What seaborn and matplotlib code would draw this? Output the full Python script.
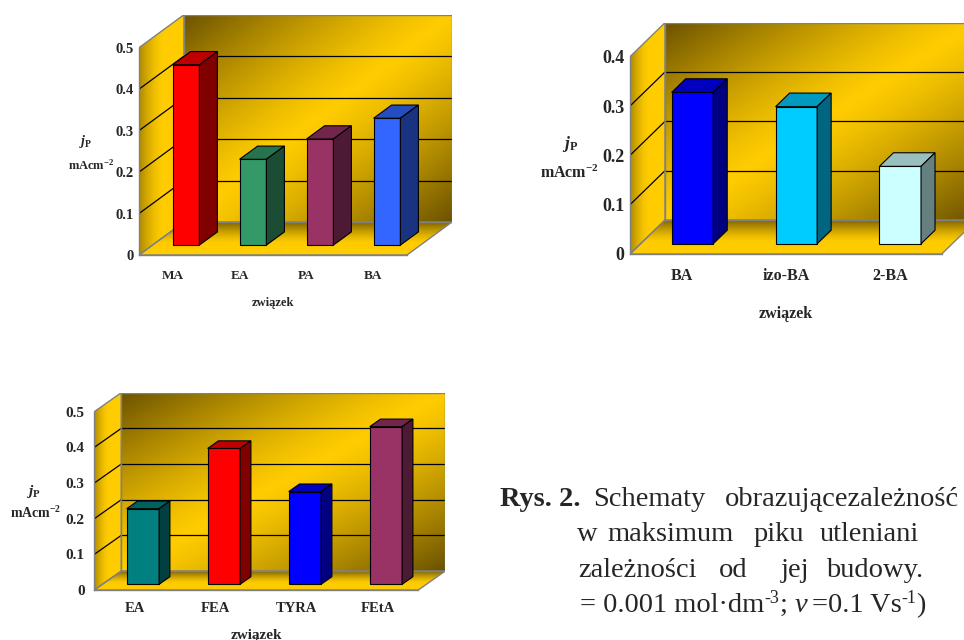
import numpy as np
import pandas as pd
import matplotlib
matplotlib.use("Agg")
import matplotlib.pyplot as plt
import matplotlib.transforms as mtransforms
from matplotlib.patches import Polygon, Rectangle
import seaborn as sns

# ---- data -------------------------------------------------------------
alkyl_names = ["MA", "EA", "PA", "BA"]
alkyl_jp = [0.435, 0.207, 0.256, 0.306]
alkyl_colors = ["#FF0000", "#339966", "#993366", "#3366FF"]

butyl_names = ["BA", "izo-BA", "2-BA"]
butyl_jp = [0.307, 0.278, 0.157]
butyl_colors = ["#0000FF", "#00CCFF", "#CCFFFF"]

aryl_names = ["EA", "FEA", "TYRA", "FEtA"]
aryl_jp = [0.212, 0.381, 0.260, 0.442]
aryl_colors = ["#008080", "#FF0000", "#0000FF", "#993366"]

ticks_05 = [0, 0.1, 0.2, 0.3, 0.4, 0.5]
labels_05 = ["0", "0.1", "0.2", "0.3", "0.4", "0.5"]
ticks_04 = [0, 0.1, 0.2, 0.3, 0.4]
labels_04 = ["0", "0.1", "0.2", "0.3", "0.4"]

x_title = "związek"
y_title_1 = r"$j_{\mathrm{P}}$"
y_title_2 = r"mAcm$^{\mathrm{-2}}$"

# ---- style ------------------------------------------------------------
sns.set_style("white")
plt.rcParams.update({
    "font.family": ["Liberation Serif", "DejaVu Serif"],
    "font.weight": "bold",
    "mathtext.fontset": "custom",
    "mathtext.rm": "Liberation Serif:bold",
    "mathtext.it": "Liberation Serif:italic:bold",
    "mathtext.bf": "Liberation Serif:bold",
})

W, H = 964, 640
fig = plt.figure(figsize=(W / 100, H / 100), dpi=100)
fig.patch.set_facecolor("white")
# pixel coordinates measured from the top-left corner
PX = mtransforms.Affine2D().scale(1, -1).translate(0, H)

GOLD = np.array([1.0, 0.80, 0.0])
DARK = np.array([0.42, 0.32, 0.0])
GREY = "#808080"

BAR_DEPTH_START = 0.3
BAR_DEPTH = 0.4


def back_wall_image(nu=240, nv=160):
    u = np.linspace(0, 1, nu)[None, :]
    v = np.linspace(0, 1, nv)[:, None]
    s = np.abs(2 * (0.5 * (u + v)) - 1) ** 1.25
    return GOLD + (DARK - GOLD) * s[..., None]


def side_wall_image(nu=80):
    u = np.linspace(0, 1, nu)[None, :]
    s = np.clip(1 - u / 0.55, 0, 1) ** 1.6 * 0.55
    return np.repeat(GOLD + (DARK - GOLD) * s[..., None], 4, axis=0)


def floor_image(nv=80):
    v = np.linspace(1, 0, nv)[:, None]  # top row = back edge
    s = np.clip((v - 0.35) / 0.65, 0, 1) ** 1.4 * 0.85
    return np.repeat(GOLD + (DARK - GOLD) * s[..., None], 4, axis=1)


def draw_panel(names, values, colors, yticks, ylabels, geom, fs):
    x0, x1, y0, ytop, dxp, dyp = geom
    n = len(names)
    ymax = yticks[-1]
    catw = (x1 - x0) / n
    vpx = (y0 - ytop) / ymax
    DX = dxp / catw
    DY = dyp / vpx

    ax = fig.add_axes([x0 / W, (H - y0) / H,
                       (x1 - x0 + dxp) / W, (y0 - ytop + dyp) / H])
    ax.set_facecolor("none")

    df = pd.DataFrame({"compound": names, "jp": values})
    sns.barplot(data=df, x="compound", y="jp", hue="compound",
                order=names, hue_order=names, palette=colors,
                saturation=1, width=0.4, edgecolor="black", linewidth=0.8,
                legend=False, ax=ax)

    bars = sorted([b for c in ax.containers for b in c], key=lambda b: b.get_x())
    xl, xr = -0.5, n - 0.5

    # walls and floor with shading
    ax.imshow(back_wall_image(), extent=(xl + DX, xr + DX, DY, ymax + DY),
              aspect="auto", interpolation="bilinear", zorder=0)
    side_poly = Polygon([(xl, 0), (xl + DX, DY), (xl + DX, ymax + DY), (xl, ymax)],
                        closed=True, transform=ax.transData)
    im = ax.imshow(side_wall_image(), extent=(xl, xl + DX, 0, ymax + DY),
                   aspect="auto", interpolation="bilinear", zorder=0)
    im.set_clip_path(side_poly)
    floor_poly = Polygon([(xl, 0), (xr, 0), (xr + DX, DY), (xl + DX, DY)],
                         closed=True, transform=ax.transData)
    im = ax.imshow(floor_image(), extent=(xl, xr + DX, 0, DY),
                   aspect="auto", interpolation="bilinear", zorder=0)
    im.set_clip_path(floor_poly)

    # grid lines on the back and side walls
    for v in yticks[1:-1]:
        ax.plot([xl + DX, xr + DX], [v + DY, v + DY], color="black", lw=0.9, zorder=1.2)
        ax.plot([xl, xl + DX], [v, v + DY], color="black", lw=0.9, zorder=1.2)

    # wall outlines
    ax.add_patch(Rectangle((xl + DX, DY), xr - xl, ymax, fill=False,
                           edgecolor=GREY, lw=1.0, zorder=1.3))
    ax.add_patch(Polygon([(xl, 0), (xl + DX, DY), (xl + DX, ymax + DY), (xl, ymax)],
                         closed=True, fill=False, edgecolor=GREY, lw=1.0, zorder=1.3))
    ax.add_patch(Polygon([(xl, 0), (xr, 0), (xr + DX, DY), (xl + DX, DY)],
                         closed=True, fill=False, edgecolor=GREY, lw=1.0, zorder=1.3))

    # bars: move the front face into the depth and add top and side faces
    fx, fy = BAR_DEPTH_START * DX, BAR_DEPTH_START * DY
    bx, by = BAR_DEPTH * DX, BAR_DEPTH * DY
    for bar in bars:
        x, w, h = bar.get_x(), bar.get_width(), bar.get_height()
        bar.set_x(x + fx)
        bar.set_y(fy)
        bar.set_zorder(3)
        col = np.array(bar.get_facecolor()[:3])
        xa, xb, yb, yt = x + fx, x + fx + w, fy, fy + h
        ax.add_patch(Polygon([(xa, yt), (xb, yt), (xb + bx, yt + by), (xa + bx, yt + by)],
                             closed=True, facecolor=col * 0.75, edgecolor="black",
                             lw=0.8, zorder=3))
        ax.add_patch(Polygon([(xb, yb), (xb, yt), (xb + bx, yt + by), (xb + bx, yb + by)],
                             closed=True, facecolor=col * 0.5, edgecolor="black",
                             lw=0.8, zorder=3))

    ax.set_xlim(xl, xr + DX)
    ax.set_ylim(0, ymax + DY)

    # axes: category boundaries as ticks, names centred between them
    ax.set_xticks(np.arange(n + 1) - 0.5, [""] * (n + 1))
    ax.set_xticks(np.arange(n), names, minor=True)
    ax.tick_params(axis="x", which="major", length=5, width=1, color=GREY, direction="out")
    ax.tick_params(axis="x", which="minor", length=0, pad=fs["xpad"], labelsize=fs["x"])
    ax.set_yticks(yticks, ylabels)
    ax.tick_params(axis="y", length=3, width=1, color=GREY, pad=fs["ypad"], labelsize=fs["y"])
    for lab in ax.get_xticklabels(minor=True) + ax.get_yticklabels():
        lab.set_fontweight("bold")
    for side in ("top", "right"):
        ax.spines[side].set_visible(False)
    ax.spines["left"].set_bounds(0, ymax)
    ax.spines["bottom"].set_bounds(xl, xr)
    for side in ("left", "bottom"):
        ax.spines[side].set_color(GREY)
        ax.spines[side].set_linewidth(1.0)
        ax.spines[side].set_zorder(1.4)
    ax.set_xlabel("")
    ax.set_ylabel("")

    # titles
    cx = 0.5 * (x0 + x1)
    fig.text(cx, fs["xt_y"], x_title, transform=PX, ha="center", va="center",
             fontsize=fs["xt"], fontweight="bold")
    fig.text(fs["j_pos"][0], fs["j_pos"][1], y_title_1, transform=PX,
             ha="center", va="center", fontsize=fs["yt"] + 1)
    fig.text(fs["u_pos"][0], fs["u_pos"][1], y_title_2, transform=PX,
             ha="center", va="center", fontsize=fs["yt"], fontweight="bold")
    return ax


draw_panel(alkyl_names, alkyl_jp, alkyl_colors, ticks_05, labels_05,
           (139, 407, 255, 47.7, 45, 33),
           dict(x=9.5, y=10.5, xt=9, yt=9, xpad=10.5, ypad=1,
                xt_y=303, j_pos=(86, 141), u_pos=(91, 165)))

draw_panel(butyl_names, butyl_jp, butyl_colors, ticks_04, labels_04,
           (630, 941.7, 254, 56.7, 35, 34),
           dict(x=11.5, y=13, xt=11.5, yt=11.5, xpad=10, ypad=1,
                xt_y=314, j_pos=(570, 144), u_pos=(569, 173)))

draw_panel(aryl_names, aryl_jp, aryl_colors, ticks_05, labels_05,
           (94.3, 418.3, 590, 411.7, 27, 19),
           dict(x=10.5, y=11, xt=11, yt=10, xpad=8.3, ypad=4,
                xt_y=635, j_pos=(33, 491), u_pos=(36, 513)))

# ---- caption ----------------------------------------------------------
CAP = 20.5
SUP = 13


def cap_text(x, y, s, weight="normal", style="normal", size=CAP, ha="left"):
    return fig.text(x, y, s, transform=PX, ha=ha, va="baseline",
                    fontsize=size, fontweight=weight, fontstyle=style,
                    family="Liberation Serif")


cap_text(500, 506, "Rys. 2.", weight="bold")
cap_text(593, 506, "Schematy")
cap_text(959, 506, "obrazującezależność", ha="right")

for x, word in [(577, "w"), (607, "maksimum"), (754, "piku"), (820, "utleniani")]:
    cap_text(x, 541, word)

for x, word in [(578, "zależności"), (719, "od"), (781, "jej"), (826, "budowy.")]:
    cap_text(x, 577, word)

renderer = fig.canvas.get_renderer()
pieces = [("= 0.001 mol·dm", "normal", CAP, 0, 0),
          ("-3", "normal", SUP, 9, 0),
          (";", "normal", CAP, 0, 8),
          ("v", "italic", CAP, 0, 4),
          ("=0.1 Vs", "normal", CAP, 0, 0),
          ("-1", "normal", SUP, 9, 0),
          (")", "normal", CAP, 0, 0)]
xc = 580
for s, style, size, rise, gap in pieces:
    t = cap_text(xc, 612 - rise, s, style=style, size=size)
    xc += t.get_window_extent(renderer).width + gap

fig.savefig("out.png", dpi=100)
